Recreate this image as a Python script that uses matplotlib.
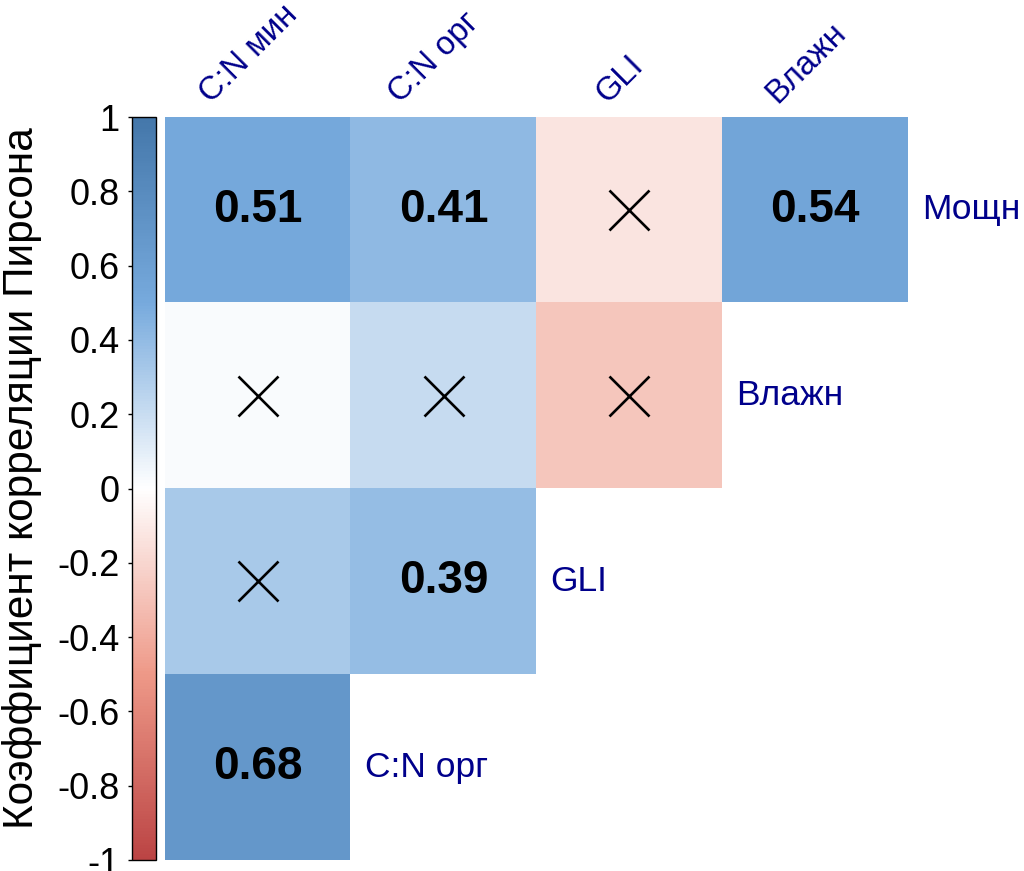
import numpy as np
import matplotlib
matplotlib.use("Agg")
import matplotlib.pyplot as plt
from matplotlib.colors import LinearSegmentedColormap

plt.rcParams['font.family'] = ['Liberation Sans', 'DejaVu Sans']

col_labels = ["C:N мин", "C:N орг", "GLI", "Влажн"]
row_labels = ["Мощн", "Влажн", "GLI", "C:N орг"]

# correlation values per row (upper-left triangle)
row_mosch = [0.51, 0.41, -0.13, 0.54]
row_vlazh = [0.02, 0.21, -0.28]
row_gli = [0.32, 0.39]
row_cnorg = [0.68]
rows = [row_mosch, row_vlazh, row_gli, row_cnorg]

# significance flags (False -> crossed out)
sig_mosch = [True, True, False, True]
sig_vlazh = [False, False, False]
sig_gli = [False, True]
sig_cnorg = [True]
sigs = [sig_mosch, sig_vlazh, sig_gli, sig_cnorg]

cbar_ticks = [-1, -0.8, -0.6, -0.4, -0.2, 0, 0.2, 0.4, 0.6, 0.8, 1]
cbar_ticklabels = ["-1", "-0.8", "-0.6", "-0.4", "-0.2", "0", "0.2", "0.4", "0.6", "0.8", "1"]

cmap = LinearSegmentedColormap.from_list(
    "corr", ["#BB4444", "#EE9988", "#FFFFFF", "#77AADD", "#4477AA"])
cmap.set_bad("white")

n = len(col_labels)
M = np.full((n, n), np.nan)
for i, r in enumerate(rows):
    for j, v in enumerate(r):
        M[i, j] = v

W, H = 1024, 871
fig = plt.figure(figsize=(W / 100, H / 100), dpi=100)
ax = fig.add_axes([165 / W, 1 - 860 / H, 743 / W, 743 / H])
im = ax.imshow(np.ma.masked_invalid(M), cmap=cmap, vmin=-1, vmax=1,
               extent=(0, n, n, 0), interpolation="nearest", aspect="auto")
ax.set_xlim(0, n)
ax.set_ylim(n, 0)
ax.axis("off")

label_color = "#00008B"
for i, r in enumerate(rows):
    for j, v in enumerate(r):
        if sigs[i][j]:
            ax.text(j + 0.5, i + 0.5, f"{v:.2f}", ha="center", va="center",
                    fontsize=33, fontweight="bold", color="black")
        else:
            ax.plot(j + 0.5, i + 0.5, marker="x", markersize=29,
                    markeredgewidth=1.9, color="black")
    # row label to the right of the last cell
    ax.text(len(r) + 0.075, i + 0.5, row_labels[i], ha="left", va="center",
            fontsize=25.5, color=label_color, clip_on=False)

for j, lab in enumerate(col_labels):
    ax.text(j + 0.45, -0.045, lab, ha="center", va="bottom", rotation=45,
            rotation_mode="default", fontsize=23.5, color=label_color,
            clip_on=False)

cax = fig.add_axes([132 / W, 1 - 860 / H, 24 / W, 743 / H])
cb = fig.colorbar(im, cax=cax)
cb.outline.set_linewidth(1.0)
cax.yaxis.set_ticks_position("left")
cax.set_yticks(cbar_ticks)
cax.set_yticklabels(cbar_ticklabels)
cax.tick_params(axis="y", labelsize=26, length=3, width=1, pad=6)

fig.text(22 / W, 1 - 478 / H, "Коэффициент корреляции Пирсона", rotation=90,
         ha="center", va="center", fontsize=30.5)

fig.savefig("out.png", dpi=100)
